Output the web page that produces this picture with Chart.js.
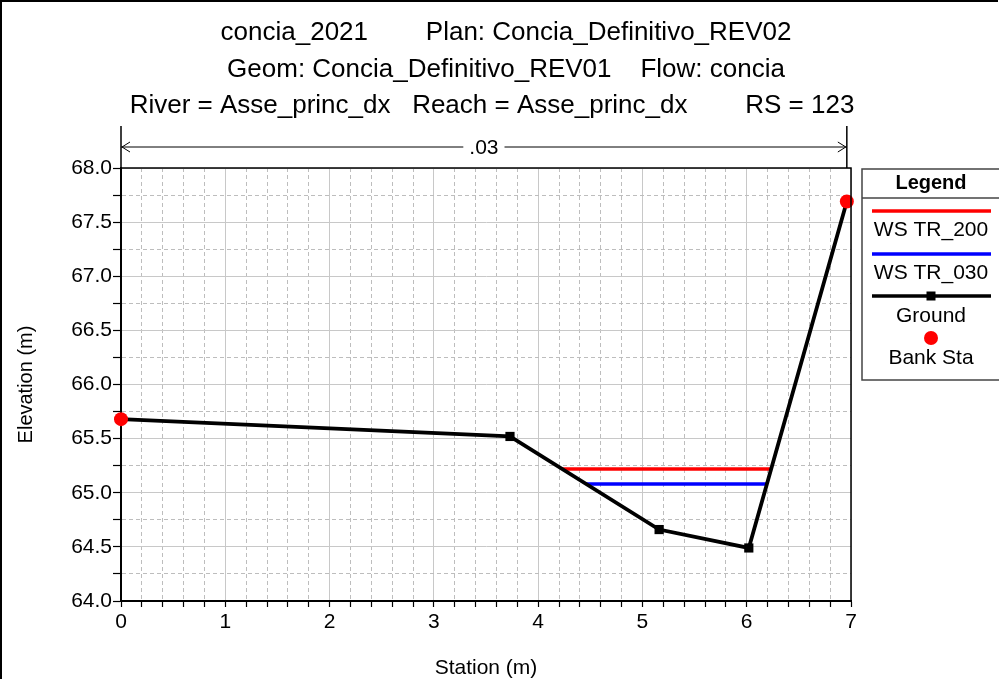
<!DOCTYPE html>
<html>
<head>
<meta charset="utf-8">
<script src="https://cdn.jsdelivr.net/npm/chart.js@4.4.1/dist/chart.umd.min.js"></script>
<style>
  html, body { margin: 0; padding: 0; background: #fff; }
  #wrap { width: 999px; height: 679px; position: relative; }
</style>
</head>
<body>
<div id="wrap"><canvas id="xsChart" width="999" height="679"></canvas></div>
<script>
// cross section data
const groundSta = [0, 3.73, 5.16, 6.02, 6.96];
const groundElev = [65.68, 65.52, 64.66, 64.49, 67.69];

const ws200Sta = [4.23, 6.24];
const ws200Elev = [65.22, 65.22];
const ws030Sta = [4.46, 6.20];
const ws030Elev = [65.08, 65.08];

const bankSta = [0, 6.96];
const bankElev = [65.68, 67.69];

const mannN = [".03"];

const titleLines = [
    "concia_2021        Plan: Concia_Definitivo_REV02",
    "Geom: Concia_Definitivo_REV01    Flow: concia",
    "River = Asse_princ_dx   Reach = Asse_princ_dx        RS = 123"
];

const FONT = "'Liberation Sans', Arial, Helvetica, sans-serif";

function pts(xs, ys) {
    return xs.map((x, i) => ({ x, y: ys[i] }));
}

function isMult(v, step) {
    return Math.abs(v / step - Math.round(v / step)) < 1e-6;
}

// titles, plot frame, n-value bracket, legend
const decorPlugin = {
    id: "decor",
    afterDraw(chart) {
        const ctx = chart.ctx;
        const area = chart.chartArea;
        const xs = chart.scales.x;
        ctx.save();

        // outer frame
        ctx.strokeStyle = "#000";
        ctx.lineWidth = 2;
        ctx.beginPath();
        ctx.moveTo(1, 679);
        ctx.lineTo(1, 1);
        ctx.lineTo(998, 1);
        ctx.stroke();

        // top + right edge of plot
        ctx.lineWidth = 1.5;
        ctx.beginPath();
        ctx.moveTo(area.left, area.top);
        ctx.lineTo(area.right, area.top);
        ctx.lineTo(area.right, area.bottom);
        ctx.stroke();

        // title
        ctx.fillStyle = "#000";
        ctx.font = "26px " + FONT;
        ctx.textAlign = "center";
        ctx.textBaseline = "middle";
        const centers = [506, 506, 492];
        titleLines.forEach((t, i) => ctx.fillText(t, centers[i], 33 + i * 36.5));

        // manning n bracket
        const xl = xs.getPixelForValue(bankSta[0]);
        const xr = xs.getPixelForValue(bankSta[1]);
        const yb = 147;
        ctx.lineWidth = 1.5;
        ctx.beginPath();
        ctx.moveTo(xl, 126); ctx.lineTo(xl, area.top);
        ctx.moveTo(xr, 126); ctx.lineTo(xr, area.top);
        ctx.stroke();
        ctx.font = "21px " + FONT;
        const mid = (xl + xr) / 2;
        const tw = ctx.measureText(mannN[0]).width / 2 + 6;
        ctx.lineWidth = 1;
        ctx.beginPath();
        ctx.moveTo(xl, yb); ctx.lineTo(mid - tw, yb);
        ctx.moveTo(mid + tw, yb); ctx.lineTo(xr, yb);
        ctx.moveTo(xl + 9, yb - 5); ctx.lineTo(xl + 1, yb); ctx.lineTo(xl + 9, yb + 5);
        ctx.moveTo(xr - 9, yb - 5); ctx.lineTo(xr - 1, yb); ctx.lineTo(xr - 9, yb + 5);
        ctx.stroke();
        ctx.fillText(mannN[0], mid, yb + 1);

        // legend box
        const lx = 862, ly = 169, lr = 1004, lb = 380;
        const cx = 931;
        ctx.strokeStyle = "#444";
        ctx.lineWidth = 1.5;
        ctx.strokeRect(lx, ly, lr - lx, lb - ly);
        ctx.beginPath();
        ctx.moveTo(lx, 198); ctx.lineTo(lr, 198);
        ctx.stroke();
        ctx.fillStyle = "#000";
        ctx.font = "bold 20px " + FONT;
        ctx.fillText("Legend", cx, 183);

        const ds = chart.data.datasets;
        const rows = [
            { d: ds[0], line: 211, text: 230 },
            { d: ds[1], line: 254, text: 273 },
            { d: ds[2], line: 296, text: 316, marker: "rect" },
            { d: ds[3], line: 338, text: 358, marker: "dot" }
        ];
        ctx.font = "21px " + FONT;
        rows.forEach(r => {
            if (r.marker !== "dot") {
                ctx.strokeStyle = r.d.borderColor;
                ctx.lineWidth = 3.5;
                ctx.beginPath();
                ctx.moveTo(872, r.line); ctx.lineTo(991, r.line);
                ctx.stroke();
            }
            if (r.marker === "rect") {
                ctx.fillStyle = "#000";
                ctx.fillRect(cx - 4.5, r.line - 4.5, 9, 9);
            }
            if (r.marker === "dot") {
                ctx.fillStyle = r.d.backgroundColor;
                ctx.beginPath();
                ctx.arc(cx, r.line, 7, 0, Math.PI * 2);
                ctx.fill();
            }
            ctx.fillStyle = "#000";
            ctx.fillText(r.d.label, cx, r.text);
        });

        ctx.restore();
    }
};

const ctx = document.getElementById("xsChart").getContext("2d");
const xsChart = new Chart(ctx, {
    type: "scatter",
    data: {
        datasets: [{
            label: "WS TR_200",
            data: pts(ws200Sta, ws200Elev),
            showLine: true,
            borderColor: "#ff0000",
            borderWidth: 3.5,
            pointRadius: 0,
            order: 3
        }, {
            label: "WS TR_030",
            data: pts(ws030Sta, ws030Elev),
            showLine: true,
            borderColor: "#0000ff",
            borderWidth: 3.5,
            pointRadius: 0,
            order: 2
        }, {
            label: "Ground",
            data: pts(groundSta, groundElev),
            showLine: true,
            borderColor: "#000",
            backgroundColor: "#000",
            borderWidth: 3.8,
            pointStyle: "rect",
            pointRadius: 6.5,
            pointBorderWidth: 0,
            order: 1,
            clip: false
        }, {
            label: "Bank Sta",
            data: pts(bankSta, bankElev),
            showLine: false,
            backgroundColor: "#ff0000",
            borderColor: "#ff0000",
            pointRadius: 7,
            pointBorderWidth: 0,
            order: 0,
            clip: false
        }]
    },
    options: {
        responsive: false,
        devicePixelRatio: 1,
        animation: false,
        events: [],
        layout: { padding: { top: 168, right: 148, left: 0, bottom: 0 } },
        plugins: {
            legend: { display: false },
            tooltip: { enabled: false }
        },
        scales: {
            x: {
                type: "linear",
                min: 0,
                max: 7,
                afterFit(scale) { scale.height = 78; },
                ticks: {
                    stepSize: 0.2,
                    autoSkip: false,
                    maxRotation: 0,
                    color: "#000",
                    padding: 3,
                    font: { family: FONT, size: 21 },
                    callback: v => isMult(v, 1) ? String(Math.round(v)) : ""
                },
                grid: {
                    color: c => c.tick && isMult(c.tick.value, 1) ? "#c8c8c8" : "#bdbdbd",
                    lineWidth: 1,
                    tickLength: 6,
                    tickColor: "#000",
                    tickWidth: 1.2
                },
                border: {
                    display: true,
                    color: "#000",
                    width: 2,
                    dash: c => c.tick && !isMult(c.tick.value, 1) ? [4, 3] : []
                },
                title: {
                    display: true,
                    text: "Station (m)",
                    color: "#000",
                    font: { family: FONT, size: 21, lineHeight: 1 },
                    padding: { top: 0, bottom: 0.5 }
                }
            },
            y: {
                type: "linear",
                min: 64,
                max: 68,
                afterFit(scale) { scale.width = 121; },
                ticks: {
                    stepSize: 0.25,
                    autoSkip: false,
                    color: "#000",
                    padding: 1,
                    font: { family: FONT, size: 21 },
                    callback: v => isMult(v, 0.5) ? v.toFixed(1) : ""
                },
                grid: {
                    color: c => c.tick && isMult(c.tick.value, 0.5) ? "#c8c8c8" : "#bdbdbd",
                    lineWidth: 1,
                    tickLength: 8,
                    tickColor: "#000",
                    tickWidth: 1.2
                },
                border: {
                    display: true,
                    color: "#000",
                    width: 2,
                    dash: c => c.tick && !isMult(c.tick.value, 0.5) ? [4, 3] : []
                },
                title: {
                    display: true,
                    text: "Elevation (m)",
                    color: "#000",
                    font: { family: FONT, size: 20, lineHeight: 1 },
                    padding: { top: 16, bottom: 0 }
                }
            }
        }
    },
    plugins: [decorPlugin]
});
</script>
</body>
</html>
